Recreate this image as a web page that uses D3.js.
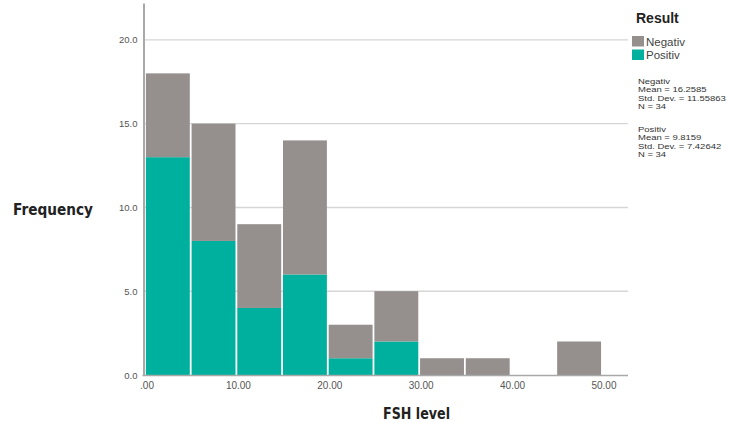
<!DOCTYPE html>
<html>
<head>
<meta charset="utf-8">
<script src="https://cdn.jsdelivr.net/npm/d3@7"></script>
<style>
  html, body { margin: 0; padding: 0; background: #fff; }
  svg { display: block; }
</style>
</head>
<body>
<svg id="chart" width="729" height="423"></svg>
<script>
// FSH level histogram, bins of width 5, stacked by result group
const binStarts = [0, 5, 10, 15, 20, 25, 30, 35, 40, 45];
const positiv = [13, 8, 4, 6, 1, 2, 0, 0, 0, 0];
const negativ = [5, 7, 5, 8, 2, 3, 1, 1, 0, 2];
const binWidth = 5;
const groups = ["Positiv", "Negativ"];
const legendOrder = ["Negativ", "Positiv"];
const yTicks = [0, 5, 10, 15, 20];
const xTicks = [0, 10, 20, 30, 40, 50];
const stats = [
  { name: "Negativ", mean: "16.2585", sd: "11.55863", n: 34 },
  { name: "Positiv", mean: "9.8159", sd: "7.42642", n: 34 }
];

const colors = { Negativ: "#958f8e", Positiv: "#00b09e" };

const svg = d3.select("#chart");
const plot = { left: 145, right: 628, top: 3, bottom: 375 };

const x = d3.scaleLinear().domain([0, 52.85]).range([plot.left, plot.right]);
const y = d3.scaleLinear().domain([0, 22.2]).range([plot.bottom, plot.top]);

// gridlines
svg.append("g")
  .selectAll("line")
  .data(yTicks.filter(d => d > 0))
  .join("line")
  .attr("x1", plot.left - 1)
  .attr("x2", plot.right)
  .attr("y1", d => y(d))
  .attr("y2", d => y(d))
  .attr("stroke", "#d6d6d6")
  .attr("stroke-width", 1.4);

// stacked bars
const rows = binStarts.map((b, i) => ({ start: b, Positiv: positiv[i], Negativ: negativ[i] }));
const stacked = d3.stack().keys(groups)(rows);

svg.append("g")
  .selectAll("g")
  .data(stacked)
  .join("g")
  .attr("fill", d => colors[d.key])
  .selectAll("rect")
  .data(d => d.filter(s => s[1] > s[0]))
  .join("rect")
  .attr("x", d => x(d.data.start) + 0.9)
  .attr("width", d => x(d.data.start + binWidth) - x(d.data.start) - 1.8)
  .attr("y", d => y(d[1]))
  .attr("height", d => y(d[0]) - y(d[1]));

// axes
const tickFont = "Liberation Sans, Arial, Helvetica, sans-serif";
const yAxis = d3.axisLeft(y).tickValues(yTicks).tickFormat(d3.format(".1f")).tickSize(0).tickPadding(6);
const gy = svg.append("g").attr("transform", `translate(${plot.left - 1.5},0)`).call(yAxis);
gy.select(".domain").attr("stroke", "#a9a9a9").attr("stroke-width", 2);
gy.selectAll("text")
  .attr("font-family", tickFont)
  .attr("font-size", 9.5)
  .attr("fill", "#555");

const xAxis = d3.axisBottom(x).tickValues(xTicks)
  .tickFormat(d => d === 0 ? ".00" : d3.format(".2f")(d))
  .tickSize(0).tickPadding(6);
const gx = svg.append("g").attr("transform", `translate(0,${plot.bottom + 0.5})`).call(xAxis);
gx.select(".domain").attr("stroke", "#a9a9a9").attr("stroke-width", 1.5)
  .attr("d", `M${plot.left - 2.5},0H${plot.right}`);
gx.selectAll("text")
  .attr("font-family", tickFont)
  .attr("font-size", 10)
  .attr("fill", "#555")
  .attr("dx", 1.5);

// axis titles
svg.append("text")
  .attr("x", 13).attr("y", 215)
  .attr("font-family", "Century Gothic, URW Gothic, DejaVu Sans, sans-serif")
  .attr("font-weight", "bold")
  .attr("font-size", 15)
  .attr("textLength", 80)
  .attr("lengthAdjust", "spacingAndGlyphs")
  .attr("fill", "#222")
  .text("Frequency");

svg.append("text")
  .attr("x", 383).attr("y", 419)
  .attr("font-family", "Century Gothic, URW Gothic, DejaVu Sans, sans-serif")
  .attr("font-weight", "bold")
  .attr("font-size", 15.5)
  .attr("textLength", 67)
  .attr("lengthAdjust", "spacingAndGlyphs")
  .attr("fill", "#222")
  .text("FSH level");

// legend
const legend = svg.append("g").attr("font-family", tickFont);
legend.append("text")
  .attr("x", 636).attr("y", 23)
  .attr("font-size", 14).attr("font-weight", "bold").attr("fill", "#222")
  .text("Result");

legendOrder.forEach((k, i) => {
  const ly = 36 + i * 13.5;
  legend.append("rect")
    .attr("x", 632).attr("y", ly)
    .attr("width", 12).attr("height", 10.5)
    .attr("fill", colors[k]);
  legend.append("text")
    .attr("x", 646).attr("y", ly + 9.5)
    .attr("font-size", 11.5).attr("fill", "#444")
    .text(k);
});

// summary statistics, drawn slightly stretched horizontally
stats.forEach((s, i) => {
  const baseY = 84 + i * 48;
  const lines = [s.name, `Mean = ${s.mean}`, `Std. Dev. = ${s.sd}`, `N = ${s.n}`];
  const block = legend.append("g")
    .attr("transform", `translate(638,${baseY}) scale(1.17,1)`);
  block.selectAll(null)
    .data(lines)
    .join("text")
    .attr("x", 0)
    .attr("y", (d, j) => j * 8.4)
    .attr("font-size", 8.1)
    .attr("fill", "#333")
    .text(d => d);
});
</script>
</body>
</html>
